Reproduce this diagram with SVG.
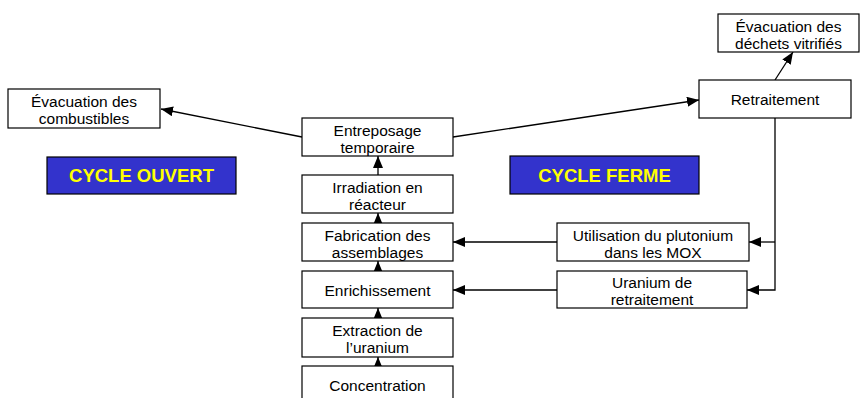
<svg xmlns="http://www.w3.org/2000/svg" width="861" height="398" viewBox="0 0 861 398">
<style>
.box{fill:#fff;stroke:#000;stroke-width:1.2}
.t{font-family:"Liberation Sans",Arial,sans-serif;font-size:15.5px;fill:#000;text-anchor:middle}
.cyc{fill:#3333cc;stroke:#000;stroke-width:1.2}
.ct{font-family:"Liberation Sans",Arial,sans-serif;font-size:18.5px;font-weight:bold;fill:#ffff00;text-anchor:middle}
.c{stroke:#000;stroke-width:1.3;fill:none}
</style>
<defs>
<marker id="ah" viewBox="0 0 12 10" refX="12" refY="5" markerWidth="12" markerHeight="10" markerUnits="userSpaceOnUse" orient="auto">
<path d="M0,0 L12,5 L0,10 z" fill="#000"/>
</marker>
</defs>
<rect width="861" height="398" fill="#fff"/>
<g id="connectors">
<line class="c" x1="302" y1="137" x2="161" y2="109" marker-end="url(#ah)"/>
<line class="c" x1="453" y1="137" x2="699" y2="100" marker-end="url(#ah)"/>
<line class="c" x1="775" y1="80" x2="793" y2="52" marker-end="url(#ah)"/>
<polyline class="c" points="775,118 775,290 747,290" marker-end="url(#ah)"/>
<line class="c" x1="775" y1="242" x2="749" y2="242" marker-end="url(#ah)"/>
<line class="c" x1="557" y1="242" x2="453" y2="242" marker-end="url(#ah)"/>
<line class="c" x1="557" y1="290" x2="453" y2="290" marker-end="url(#ah)"/>
<line class="c" x1="378" y1="175" x2="378" y2="156" marker-end="url(#ah)"/>
<line class="c" x1="378" y1="223" x2="378" y2="213" marker-end="url(#ah)"/>
<line class="c" x1="378" y1="271" x2="378" y2="261" marker-end="url(#ah)"/>
<line class="c" x1="378" y1="318" x2="378" y2="308" marker-end="url(#ah)"/>
<line class="c" x1="378" y1="366" x2="378" y2="357" marker-end="url(#ah)"/>
</g>
<g id="evac-combustibles">
<rect class="box" x="8" y="89" width="152" height="39"/>
<text class="t" x="84" y="107">Évacuation des</text>
<text class="t" x="84" y="124">combustibles</text>
</g>
<g id="cycle-ouvert">
<rect class="cyc" x="47" y="157" width="189" height="37"/>
<text class="ct" x="141.5" y="182">CYCLE OUVERT</text>
</g>
<g id="cycle-ferme">
<rect class="cyc" x="510" y="156" width="189" height="38"/>
<text class="ct" x="604.5" y="182">CYCLE FERME</text>
</g>
<g id="entreposage">
<rect class="box" x="302" y="118" width="151" height="38"/>
<text class="t" x="377.5" y="136">Entreposage</text>
<text class="t" x="377.5" y="153">temporaire</text>
</g>
<g id="irradiation">
<rect class="box" x="302" y="175" width="151" height="38"/>
<text class="t" x="377.5" y="193">Irradiation en</text>
<text class="t" x="377.5" y="210">réacteur</text>
</g>
<g id="fabrication">
<rect class="box" x="302" y="223" width="151" height="38"/>
<text class="t" x="377.5" y="241">Fabrication des</text>
<text class="t" x="377.5" y="258">assemblages</text>
</g>
<g id="enrichissement">
<rect class="box" x="302" y="271" width="151" height="37"/>
<text class="t" x="377.5" y="296">Enrichissement</text>
</g>
<g id="extraction">
<rect class="box" x="302" y="318" width="151" height="39"/>
<text class="t" x="377.5" y="336">Extraction de</text>
<text class="t" x="377.5" y="353">l’uranium</text>
</g>
<g id="concentration">
<rect class="box" x="302" y="366" width="151" height="40"/>
<text class="t" x="377.5" y="391">Concentration</text>
</g>
<g id="retraitement">
<rect class="box" x="699" y="80" width="152" height="38"/>
<text class="t" x="775" y="105">Retraitement</text>
</g>
<g id="evac-dechets">
<rect class="box" x="718" y="14" width="141" height="38"/>
<text class="t" x="788.5" y="32">Évacuation des</text>
<text class="t" x="788.5" y="49">déchets vitrifiés</text>
</g>
<g id="plutonium">
<rect class="box" x="557" y="223" width="192" height="38"/>
<text class="t" x="653" y="241">Utilisation du plutonium</text>
<text class="t" x="653" y="258">dans les MOX</text>
</g>
<g id="uranium-retraitement">
<rect class="box" x="557" y="271" width="190" height="37"/>
<text class="t" x="652" y="288">Uranium de</text>
<text class="t" x="652" y="305">retraitement</text>
</g>
</svg>
